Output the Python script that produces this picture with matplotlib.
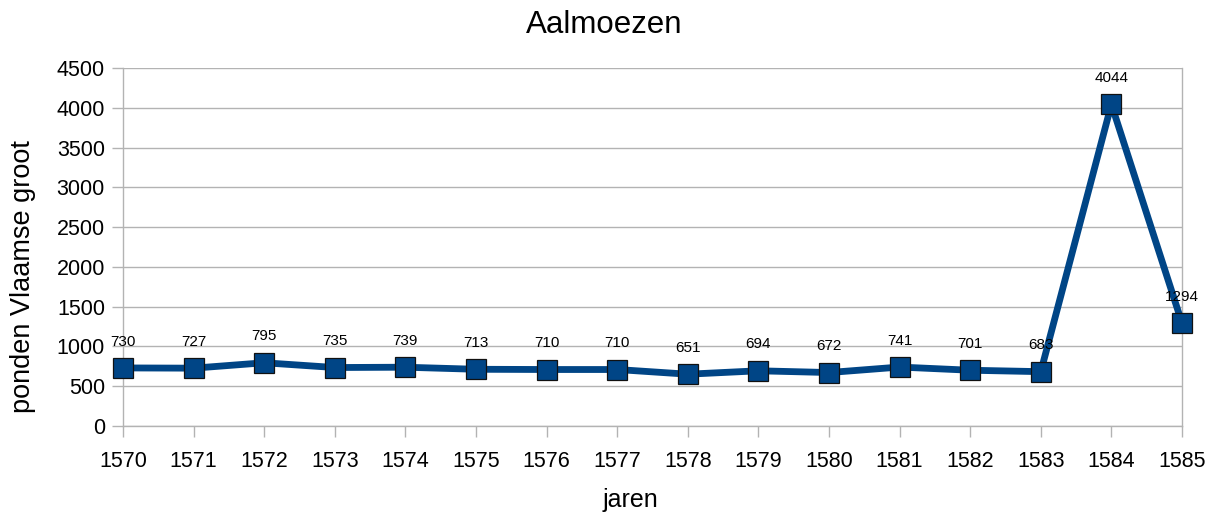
import matplotlib
matplotlib.use("Agg")
import matplotlib.pyplot as plt

plt.rcParams['font.family'] = ['Liberation Sans', 'DejaVu Sans']

years = [1570, 1571, 1572, 1573, 1574, 1575, 1576, 1577, 1578, 1579, 1580, 1581, 1582, 1583, 1584, 1585]
values = [730, 727, 795, 735, 739, 713, 710, 710, 651, 694, 672, 741, 701, 683, 4044, 1294]
yticks = [0, 500, 1000, 1500, 2000, 2500, 3000, 3500, 4000, 4500]

W, H = 1215, 515
fig = plt.figure(figsize=(W/100, H/100), dpi=100)
ax = fig.add_axes([123/W, 1-426/H, (1182-123)/W, (426-68)/H])

grid_c = '#b3b3b3'
ax.plot(years, values, color='#004586', lw=4.9, marker='s', markersize=14.5,
        markerfacecolor='#004586', markeredgecolor='#111111', markeredgewidth=0.9,
        zorder=3, clip_on=False)

for x, v in zip(years, values):
    ax.annotate(str(v), (x, v), xytext=(0, 19), textcoords='offset points',
                ha='center', va='center', fontsize=11, color='black', zorder=4)

ax.set_xlim(years[0], years[-1])
ax.set_ylim(0, 4500)
ax.set_xticks(years)
ax.set_xticklabels([str(y) for y in years])
ax.set_yticks(yticks)
ax.yaxis.grid(True, color=grid_c, lw=1)
ax.set_axisbelow(True)
for s in ['left', 'right', 'bottom']:
    ax.spines[s].set_color(grid_c)
    ax.spines[s].set_linewidth(1)
ax.spines['top'].set_visible(False)
ax.tick_params(axis='both', colors=grid_c, length=8, width=1, labelcolor='black',
               labelsize=15.5)
ax.tick_params(axis='x', pad=10)
ax.tick_params(axis='y', pad=5)

fig.text(604/W, 1-25/H, 'Aalmoezen', fontsize=22.5, ha='center', va='center')
fig.text(630/W, 1-500/H, 'jaren', fontsize=18, ha='center', va='center')
fig.text(23/W, 1-277/H, 'ponden Vlaamse groot', fontsize=19.5, ha='center', va='center',
         rotation=90)

fig.savefig('out.png', dpi=100)
